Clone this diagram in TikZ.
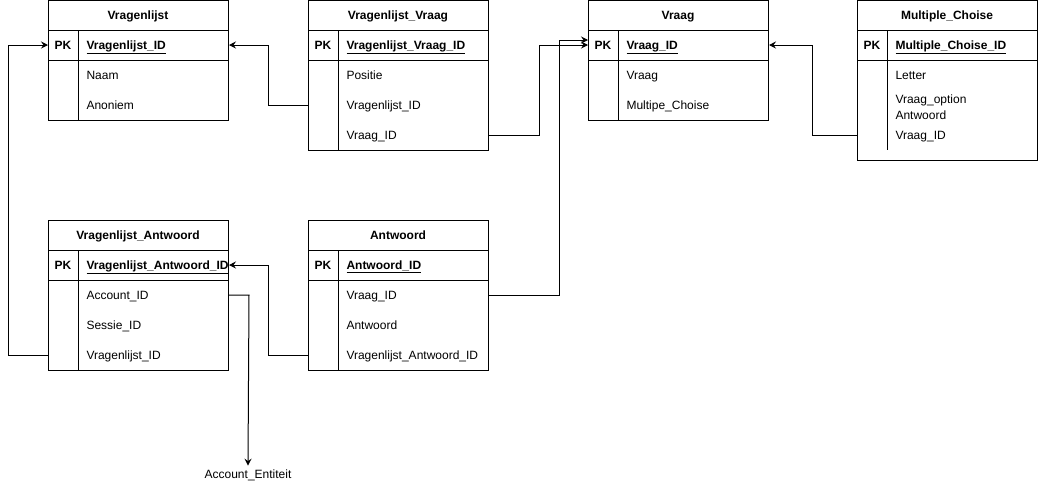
\documentclass[tikz,border=0pt]{standalone}
\usepackage{fontspec}
\setmainfont{Liberation Sans}
\usetikzlibrary{arrows.meta,calc}
\begin{document}
\begin{tikzpicture}[x=1pt,y=-1pt, line width=1pt,
 tbl/.style={draw, minimum width=180pt, anchor=north west, inner sep=0pt},
 txt/.style={inner sep=0pt, text height=10pt, text depth=2pt},
 title/.style={txt, font=\fontsize{12}{14}\selectfont\bfseries, anchor=center},
 fld/.style={txt, font=\fontsize{12}{16}\selectfont, anchor=west},
 pk/.style={txt, font=\fontsize{12}{14}\selectfont\bfseries, anchor=center},
 conn/.style={draw, -{Stealth[length=7pt,width=7pt,inset=2.5pt]}},
 lbl/.style={font=\fontsize{12}{14}\selectfont, anchor=center},
]
\useasboundingbox (0,0) rectangle (1038,491);
\newcommand{\ertable}[7]{%
 \node[tbl, minimum height=#4pt] (#1) at (#2,#3) {};
 \draw ({#2},{#3+30}) -- ({#2+180},{#3+30});
 \draw ({#2},{#3+60}) -- ({#2+180},{#3+60});
 \draw ({#2+30},{#3+30}) -- ({#2+30},{#3+#7});
 \node[title] (#1-t) at ({#2+90},{#3+15}) {#5};
 \node[pk] (#1-pkl) at ({#2+15},{#3+45}) {PK};
 \node[fld, font=\fontsize{12}{14}\selectfont\bfseries] (#1-pk) at ({#2+38},{#3+45}) {\underline{#6}};
}
% tables
\ertable{vl}{48}{0}{120}{Vragenlijst}{Vragenlijst\_ID}{120}
\node[fld] (vl-1) at (86,75) {Naam};
\node[fld] (vl-2) at (86,105) {Anoniem};

\ertable{vv}{308}{0}{150}{Vragenlijst\_Vraag}{Vragenlijst\_Vraag\_ID}{150}
\node[fld] (vv-1) at (346,75) {Positie};
\node[fld] (vv-2) at (346,105) {Vragenlijst\_ID};
\node[fld] (vv-3) at (346,135) {Vraag\_ID};

\ertable{vq}{588}{0}{120}{Vraag}{Vraag\_ID}{120}
\node[fld] (vq-1) at (626,75) {Vraag};
\node[fld] (vq-2) at (626,105) {Multipe\_Choise};

\ertable{mc}{857}{0}{160}{Multiple\_Choise}{Multiple\_Choise\_ID}{150}
\node[fld] (mc-1) at (895,75) {Letter};
\node[fld] (mc-2) at (895,99) {Vraag\_option};
\node[fld] (mc-2b) at (895,115) {Antwoord};
\node[fld] (mc-3) at (895,135) {Vraag\_ID};

\ertable{va}{48}{220}{150}{Vragenlijst\_Antwoord}{Vragenlijst\_Antwoord\_ID}{150}
\node[fld] (va-1) at (86,295) {Account\_ID};
\node[fld] (va-2) at (86,325) {Sessie\_ID};
\node[fld] (va-3) at (86,355) {Vragenlijst\_ID};

\ertable{an}{308}{220}{150}{Antwoord}{Antwoord\_ID}{150}
\node[fld] (an-1) at (346,295) {Vraag\_ID};
\node[fld] (an-2) at (346,325) {Antwoord};
\node[fld] (an-3) at (346,355) {Vragenlijst\_Antwoord\_ID};

\node[lbl] (ae) at (248,475) {Account\_Entiteit};

% connectors
\draw[conn] (vv.west |- vv-2) -- ++(-40,0) |- (vl.east |- vl-pk);
\draw[conn] (vv.east |- vv-3) -- ++(50,0) |- (vq.west |- vq-pk);
\draw[conn] (an.east |- an-1) -- ++(70,0) |- ($(vq.west |- vq-pk)+(0,-5)$);
\draw[conn] (mc.west |- mc-3) -- ++(-45,0) |- (vq.east |- vq-pk);
\draw[conn] (va.west |- va-3) -- ++(-40,0) |- (vl.west |- vl-pk);
\draw[conn] (an.west |- an-3) -- ++(-40,0) |- (va.east |- va-pk);
\draw[conn] (va.east |- va-1) -- ++(20,0) -- (ae.north);
\end{tikzpicture}
\end{document}
